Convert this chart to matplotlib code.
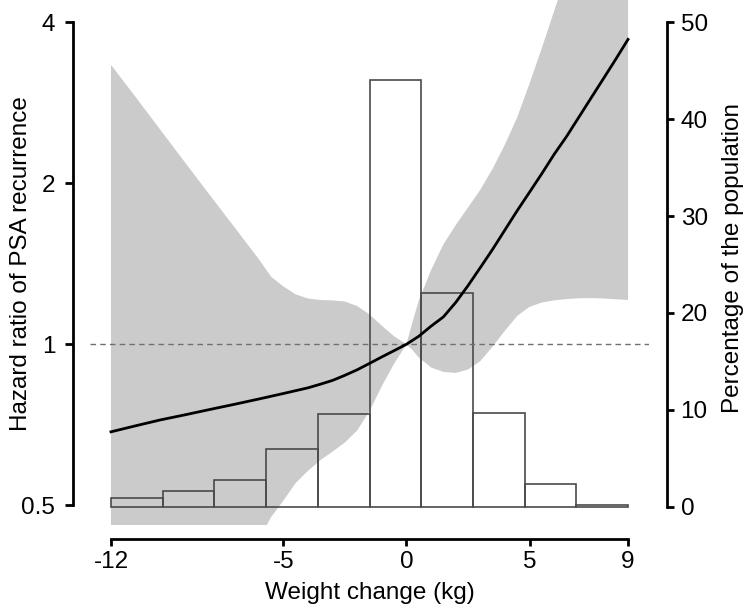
import matplotlib
matplotlib.use("Agg")
import matplotlib.pyplot as plt

plt.rcParams['font.family'] = ['Liberation Sans', 'DejaVu Sans']

# ---------------- data ----------------
weight_curve = [-12, -11, -10, -9, -8, -7, -6, -5, -4, -3.5, -3, -2.5, -2, -1.5, -1, -0.5, 0,
                0.5, 1, 1.5, 2, 2.5, 3, 3.5, 4, 4.5, 5, 5.5, 6, 6.5, 7, 7.5, 8, 8.5, 9]
hazard_ratio = [0.686, 0.704, 0.722, 0.738, 0.755, 0.772, 0.790, 0.809, 0.829, 0.842, 0.856, 0.875,
                0.896, 0.921, 0.947, 0.973, 1.0, 1.035, 1.081, 1.125, 1.197, 1.287, 1.391, 1.505,
                1.636, 1.778, 1.925, 2.085, 2.266, 2.445, 2.657, 2.888, 3.138, 3.411, 3.716]

weight_band = [-12, -11, -10, -9, -8, -7, -6, -5.5, -5, -4.5, -4, -3.5, -3, -2.5, -2, -1.5, -1, -0.5, 0,
               0.25, 0.5, 1, 1.5, 2, 2.5, 3, 3.5, 4, 4.5, 5, 5.5, 6, 6.5, 7, 7.5, 8, 8.5, 9]
ci_upper = [3.33, 2.90, 2.52, 2.19, 1.905, 1.659, 1.444, 1.338, 1.283, 1.24, 1.218, 1.21, 1.208, 1.202,
            1.179, 1.137, 1.083, 1.035, 1.0,
            1.102, 1.206, 1.376, 1.537, 1.670, 1.802, 1.945, 2.129, 2.362, 2.657, 3.074, 3.58, 4.2,
            4.93, 5.66, 6.5, 7.46, 8.6, 9.85]
ci_lower = [0.30, 0.31, 0.325, 0.34, 0.36, 0.385, 0.43, 0.475, 0.51, 0.55, 0.58, 0.607, 0.63, 0.655,
            0.69, 0.75, 0.835, 0.92, 1.0,
            0.975, 0.945, 0.905, 0.888, 0.884, 0.897, 0.93, 0.99, 1.06, 1.13, 1.175, 1.197, 1.208,
            1.215, 1.219, 1.22, 1.218, 1.214, 1.21]

bin_left = [-12, -9.9, -7.8, -5.7, -3.6, -1.5, 0.6, 2.7, 4.8, 6.9]
bin_width = 2.1
percent_population = [0.85, 1.65, 2.74, 5.9, 9.6, 44.06, 22.1, 9.7, 2.3, 0.15]

x_ticks = [-12, -5, 0, 5, 9]
hr_ticks = [0.5, 1, 2, 4]
hr_ticklabels = ['0.5', '1', '2', '4']
pct_ticks = [0, 10, 20, 30, 40, 50]

# ---------------- figure ----------------
W, H = 749, 611
fig = plt.figure(figsize=(W / 100, H / 100), dpi=100)
left_px, right_px, bottom_px, top_px = 90.3, 648.7, 525, 0
ax = fig.add_axes([left_px / W, (H - bottom_px) / H, (right_px - left_px) / W, (bottom_px - top_px) / H])

FS = 17.5
ylo, yhi = 0.4593, 4.403

# band
ax.set_yscale('log')
ax.fill_between(weight_band, ci_lower, ci_upper, color='#cbcbcb', linewidth=0, zorder=1)
ax.set_xlim(-12.84, 9.84)
ax.set_ylim(ylo, yhi)
ax.set_yticks(hr_ticks)
ax.set_yticklabels(hr_ticklabels)
ax.yaxis.set_minor_locator(matplotlib.ticker.NullLocator())
ax.set_xticks(x_ticks)
ax.set_xticklabels([str(t) for t in x_ticks])

for s in ['top', 'right']:
    ax.spines[s].set_visible(False)
ax.spines['left'].set_position(('outward', 17 * 0.72))
ax.spines['left'].set_bounds(0.5, 4)
ax.spines['bottom'].set_position(('outward', 14 * 0.72))
ax.spines['bottom'].set_bounds(-12, 9)
for s in ['left', 'bottom']:
    ax.spines[s].set_linewidth(2.0)
ax.tick_params(axis='y', which='major', length=6, width=2.0, pad=7, labelsize=FS)
ax.tick_params(axis='x', which='major', length=5, width=2.0, pad=4, labelsize=FS)
ax.set_xlabel('Weight change (kg)', fontsize=FS, labelpad=6)
fig.text(21 / W, 1 - 264 / H, 'Hazard ratio of PSA recurrence', fontsize=FS,
         rotation=90, ha='center', va='center')

# histogram
ax2 = ax.twinx()
ax2.bar(bin_left, percent_population, width=bin_width, align='edge',
        facecolor='none', edgecolor='#4a4a4a', linewidth=1.2, zorder=2)
ax2.set_ylim(-1.91, 52.32)
ax2.set_yticks(pct_ticks)
for s in ['top', 'left', 'bottom']:
    ax2.spines[s].set_visible(False)
ax2.spines['right'].set_position(('outward', 18 * 0.72))
ax2.spines['right'].set_bounds(0, 50)
ax2.spines['right'].set_linewidth(2.0)
ax2.tick_params(axis='y', length=5, width=2.0, pad=5, labelsize=FS)
fig.text(733 / W, 1 - 258 / H, 'Percentage of the population', fontsize=FS,
         rotation=90, ha='center', va='center')

# curve on top
ax3 = ax.twinx()
ax3.set_yscale('log')
ax3.set_ylim(ylo, yhi)
ax3.axhline(1.0, color='#707070', linestyle=(0, (4, 3)), linewidth=1.0)
ax3.plot(weight_curve, hazard_ratio, color='black', linewidth=2.0)
ax3.set_xlim(-12.84, 9.84)
for s in ax3.spines.values():
    s.set_visible(False)
ax3.set_yticks([])
ax3.yaxis.set_minor_locator(matplotlib.ticker.NullLocator())
ax3.tick_params(axis='y', which='both', length=0, labelright=False)
ax3.patch.set_visible(False)
ax2.patch.set_visible(False)

fig.savefig('out.png', dpi=100)
